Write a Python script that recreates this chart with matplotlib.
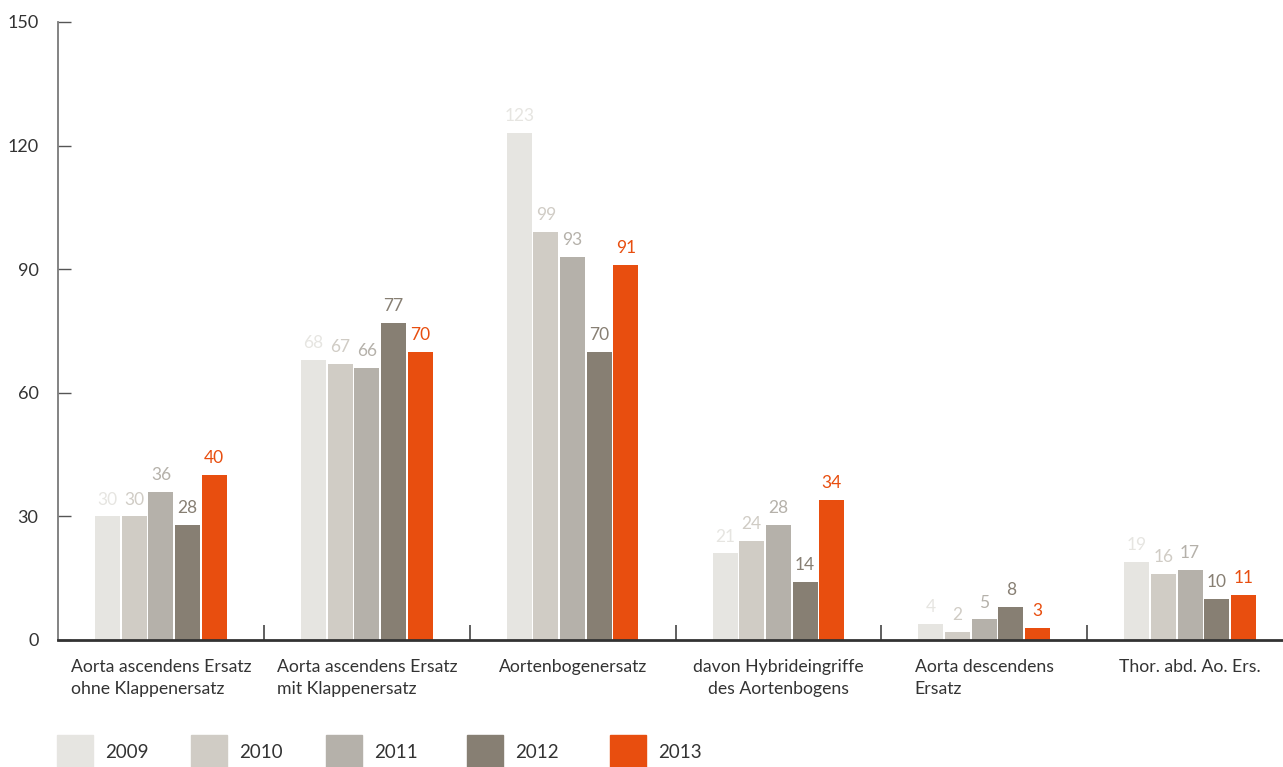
import matplotlib.pyplot as plt
from matplotlib.patches import Rectangle
import numpy as np

plt.rcParams['font.family'] = ['Lato', 'DejaVu Sans']

categories = [
    "Aorta ascendens Ersatz\nohne Klappenersatz",
    "Aorta ascendens Ersatz\nmit Klappenersatz",
    "Aortenbogenersatz",
    "davon Hybrideingriffe\ndes Aortenbogens",
    "Aorta descendens\nErsatz",
    "Thor. abd. Ao. Ers.",
]
years = ["2009", "2010", "2011", "2012", "2013"]
values = {
    "2009": [30, 68, 123, 21, 4, 19],
    "2010": [30, 67, 99, 24, 2, 16],
    "2011": [36, 66, 93, 28, 5, 17],
    "2012": [28, 77, 70, 14, 8, 10],
    "2013": [40, 70, 91, 34, 3, 11],
}
colors = ["#E6E5E1", "#D0CCC5", "#B5B1AA", "#877F73", "#E84E0F"]
yticks = [0, 30, 60, 90, 120, 150]

W, H = 1283, 767
fig = plt.figure(figsize=(W / 100, H / 100), dpi=100)
ax = fig.add_axes([58 / W, (H - 640) / H, 1235 / W, 618 / H])

n = len(categories)
centers = np.arange(n) + 0.5
bw = 0.1215
pitch = 0.1295

for i, (yr, col) in enumerate(zip(years, colors)):
    xs = centers + (i - 2) * pitch
    ax.bar(xs, values[yr], width=bw, color=col, zorder=2)
    for x, v in zip(xs, values[yr]):
        ax.text(x, v + 4.1, str(v), ha='center', va='center',
                fontsize=12.5, color=col)

ax.set_xlim(0, n)
ax.set_ylim(0, 150)

for s in ['top', 'right']:
    ax.spines[s].set_visible(False)
ax.spines['left'].set_color('#7a7a7a')
ax.spines['left'].set_linewidth(1.3)
ax.spines['bottom'].set_color('#333333')
ax.spines['bottom'].set_linewidth(2)

ax.set_yticks(yticks)
ax.tick_params(axis='y', direction='in', length=9, width=1, color='#555555',
               labelsize=13, labelcolor='#333333', pad=14)

# group separators as major ticks, category names as minor ticks
ax.set_xticks(np.arange(1, n))
ax.set_xticklabels([])
ax.tick_params(axis='x', which='major', direction='in', length=11, width=1.2,
               color='#444444')
ax.set_xticks(centers, minor=True)
ax.set_xticklabels(categories, minor=True)
ax.tick_params(axis='x', which='minor', length=0, labelsize=12.7,
               labelcolor='#333333', pad=14)
for i, lab in enumerate(ax.get_xticklabels(minor=True)):
    lab.set_multialignment('center' if i == 3 else 'left')
    lab.set_linespacing(1.45)

# legend row
sq_x = [57, 191, 326, 467, 610]
for x0, yr, col in zip(sq_x, years, colors):
    fig.patches.append(Rectangle((x0 / W, 0), 36 / W, 32 / H,
                                 transform=fig.transFigure, color=col))
    fig.text((x0 + 48) / W, (H - 752) / H, yr, ha='left', va='center',
             fontsize=13.5, color='#333333')

fig.savefig("out.png", dpi=100)
